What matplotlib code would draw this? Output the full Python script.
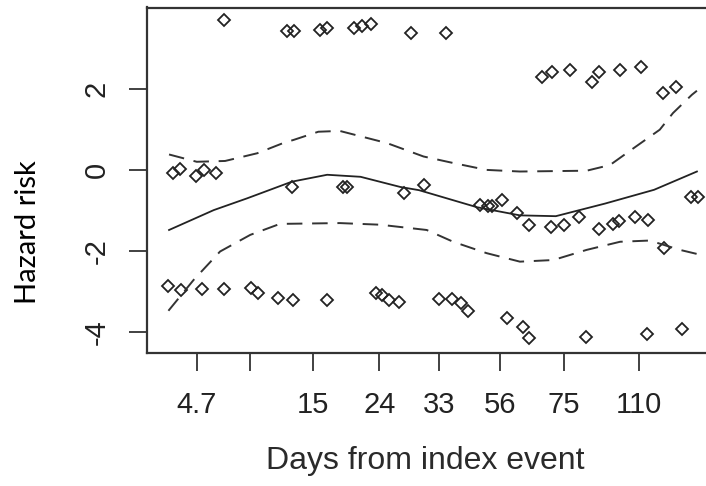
import matplotlib.pyplot as plt
import numpy as np

# x is on the plot's own (transformed) day scale; ticks carry the day labels
tick_pos = [0.0, 0.85, 1.85, 2.9, 3.85, 4.81, 5.83, 7.02]
tick_labels = ['4.7', '', '15', '24', '33', '56', '75', '110']
ytick_pos = [-4, -2, 0, 2]
ytick_labels = ['-4', '-2', '0', '2']

# partial residuals (open diamonds)
pts_x = [0.44, 1.43, 1.54, 1.96, 2.07, 2.49, 2.62, 2.77, 3.40, 3.96,
         5.48, 5.64, 5.93, 6.27, 6.39, 6.72, 7.05, 7.40, 7.61,
         -0.37, -0.26, -0.01, 0.11, 0.31, 1.51, 2.32, 2.39, 3.29, 3.60,
         4.49, 4.63, 4.68, 4.84, 5.08, 5.28, 5.62, 5.83, 6.07, 6.38,
         6.60, 6.70, 6.96, 7.17, 7.41, 7.84, 7.96,
         -0.46, -0.25, 0.08, 0.43, 0.86, 0.98, 1.29, 1.52, 2.07,
         2.85, 2.94, 3.05, 3.21,
         3.84, 4.05, 4.19, 4.30, 4.93, 5.18, 5.28, 6.18, 7.15, 7.71]
pts_y = [3.69, 3.42, 3.42, 3.45, 3.49, 3.49, 3.55, 3.59, 3.36, 3.37,
         2.30, 2.41, 2.46, 2.17, 2.42, 2.46, 2.53, 1.89, 2.05,
         -0.07, 0.02, -0.14, 0.0, -0.07, -0.41, -0.41, -0.41, -0.56, -0.38,
         -0.86, -0.89, -0.89, -0.74, -1.07, -1.35, -1.40, -1.35, -1.17, -1.45,
         -1.33, -1.25, -1.17, -1.23, -1.93, -0.66, -0.66,
         -2.87, -2.96, -2.94, -2.94, -2.91, -3.04, -3.16, -3.20, -3.20,
         -3.03, -3.07, -3.20, -3.26,
         -3.18, -3.18, -3.28, -3.47, -3.65, -3.87, -4.15, -4.11, -4.04, -3.92]

# smooth fit and confidence band
fit_x = [-0.44, 0.27, 0.80, 1.51, 2.07, 2.60, 3.23, 3.53, 4.45, 5.13, 5.70, 6.48, 7.26, 7.94]
fit_y = [-1.48, -0.99, -0.70, -0.29, -0.12, -0.17, -0.42, -0.50, -0.92, -1.12, -1.14, -0.83, -0.49, -0.04]
upper_x = [-0.44, 0.0, 0.45, 0.96, 1.37, 1.54, 1.93, 2.27, 3.02, 3.60, 4.07, 4.60,
           5.13, 6.19, 6.56, 6.93, 7.35, 7.56, 7.86, 7.94]
upper_y = [0.38, 0.20, 0.22, 0.41, 0.66, 0.74, 0.94, 0.96, 0.66, 0.33, 0.17, 0.0,
           -0.04, -0.02, 0.12, 0.53, 0.99, 1.40, 1.85, 1.95]
lower_x = [-0.45, -0.05, 0.37, 0.85, 1.32, 2.27, 2.91, 3.65, 4.07, 4.60, 5.13,
           5.66, 6.19, 6.72, 7.19, 7.67, 7.94]
lower_y = [-3.47, -2.71, -2.01, -1.60, -1.33, -1.31, -1.35, -1.48, -1.77, -2.05, -2.26,
           -2.22, -1.97, -1.77, -1.74, -1.97, -2.07]

tick_font = ['Liberation Sans Narrow', 'Liberation Sans', 'DejaVu Sans']
axis_col = '#333333'

fig = plt.figure(figsize=(7.06, 4.86), dpi=100)
ax = fig.add_axes([147 / 706, 133 / 486, 572.6 / 706, 345.5 / 486])

ax.plot(pts_x, pts_y, linestyle='none', marker='D', markersize=6.6,
        markerfacecolor='none', markeredgecolor='#222222', markeredgewidth=1.3)
ax.plot(fit_x, fit_y, color='#222222', linewidth=1.3)
ax.plot(upper_x, upper_y, color='#333333', linewidth=1.4, dashes=(8, 5))
ax.plot(lower_x, lower_y, color='#333333', linewidth=1.4, dashes=(8, 5))

ax.set_xlim(-0.79, 8.3)
ax.set_ylim(-4.51, 4.0)

ax.set_xticks(tick_pos)
ax.set_xticklabels(tick_labels, family=tick_font, fontsize=21, color='#222222')
ax.set_yticks(ytick_pos)
ax.set_yticklabels(ytick_labels, family=tick_font, fontsize=21, color='#222222',
                   rotation=90, va='center')
ax.tick_params(axis='both', direction='out', length=13, width=1.3, color=axis_col)
ax.tick_params(axis='x', pad=14)
ax.tick_params(axis='y', pad=13)

for side in ['left', 'bottom', 'top', 'right']:
    ax.spines[side].set_color(axis_col)
    ax.spines[side].set_linewidth(1.6)

fig.text(425 / 706, 1 - 461 / 486, 'Days from index event', ha='center', va='center',
         family=['Liberation Sans', 'DejaVu Sans'], fontsize=23, color='#2a2a2a')
fig.text(28 / 706, 1 - 232 / 486, 'Hazard risk', ha='center', va='center', rotation=90,
         family=['Lato', 'DejaVu Sans'], fontsize=21, color='black')

fig.savefig('out.png', dpi=100)
